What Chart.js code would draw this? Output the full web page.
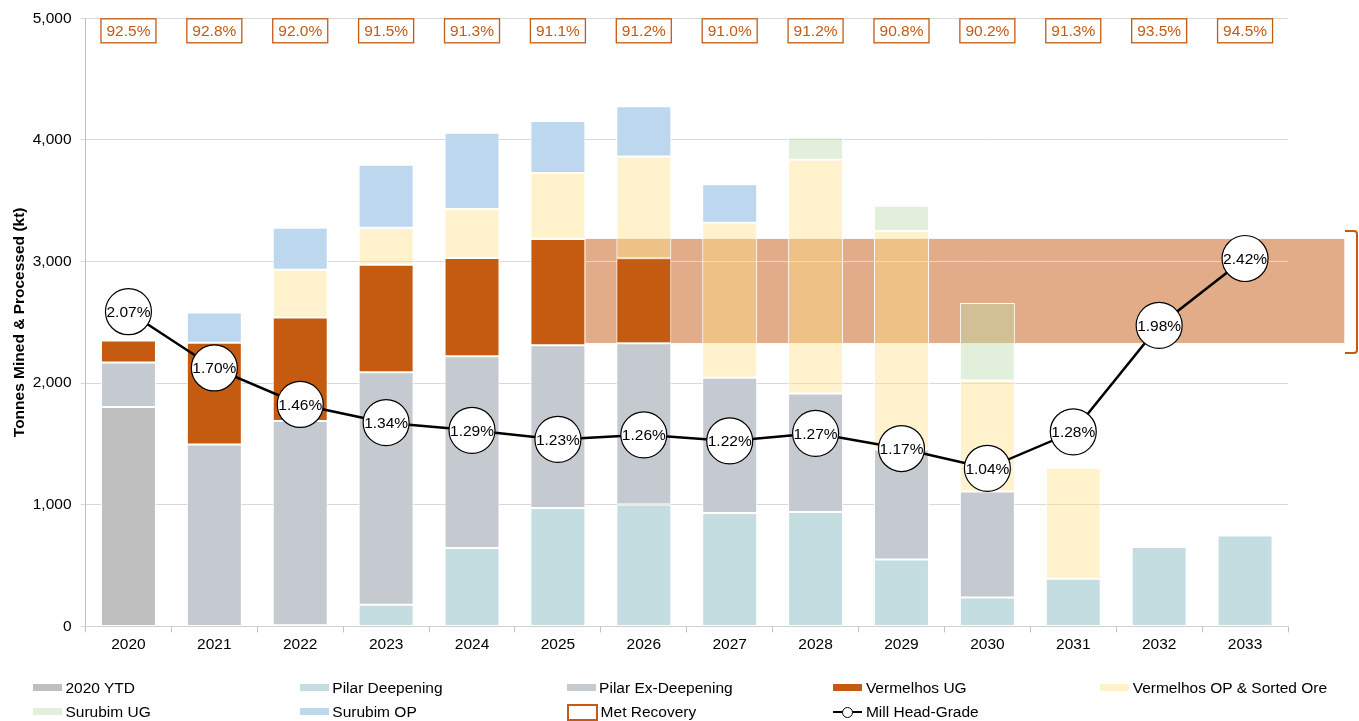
<!DOCTYPE html>
<html><head><meta charset="utf-8">
<script src="https://cdn.jsdelivr.net/npm/chart.js@4.4.1/dist/chart.umd.min.js"></script>
<style>
html,body{margin:0;padding:0;background:#fff;}
#wrap{position:relative;width:1359px;height:721px;overflow:hidden;}
#c{position:absolute;left:0;top:0;}
.lg{position:absolute;font-family:'Liberation Sans',Arial,sans-serif;font-size:15.5px;color:#000;white-space:nowrap;line-height:18px;}
.key{position:absolute;box-sizing:border-box;}
</style></head><body>
<div id="wrap"><canvas id="c" width="1359" height="721"></canvas><div id="legend"></div></div>
<script>
// ---- data ----
const years = ['2020','2021','2022','2023','2024','2025','2026','2027','2028','2029','2030','2031','2032','2033'];
const ytd2020      = [1805, null, null, null, null, null, null, null, null, null, null, null, null, null];
const pilarDeep    = [null, null, 10, 178, 644, 973, 1003, 932, 940, 551, 238, 392, 652, 748];
const pilarExDeep  = [365, 1496, 1678, 1912, 1578, 1339, 1326, 1112, 975, 904, 872, null, null, null];
const vermelhosUG  = [181, 836, 852, 883, 808, 874, 698, null, null, null, null, null, null, null];
const vermelhosOP  = [null, null, 392, 304, 403, 543, 836, 1274, 1921, 1797, 912, 912, null, null];
const surubimUG    = [null, null, null, null, null, null, null, null, 183, 206, 638, null, null, null];
const surubimOP    = [null, 250, 345, 518, 625, 427, 414, 318, null, null, null, null, null, null];
const metRecovery  = [92.5, 92.8, 92.0, 91.5, 91.3, 91.1, 91.2, 91.0, 91.2, 90.8, 90.2, 91.3, 93.5, 94.5];
const headGrade    = [2.07, 1.70, 1.46, 1.34, 1.29, 1.23, 1.26, 1.22, 1.27, 1.17, 1.04, 1.28, 1.98, 2.42];
const capacityBand = [2330, 3186];      // kt range of shaded band
const capacityFrom = 5;                 // category index (2025) the band starts after

// ---- styles ----
const FONT = "'Liberation Sans', Arial, sans-serif";
const ORANGE = '#C55A11';
const colors = {
  ytd: '#BFBFBF',
  pd: '#C4DDE0',
  pe: '#C5CAD1',
  vug: '#C55A11',
  vop: 'rgba(255,224,134,0.42)',
  sug: 'rgba(186,217,167,0.42)',
  sop: '#BDD7EE'
};
const legendColors = {vop:'#FFF2CC', sug:'#E2EFDA'};

Chart.defaults.font.family = FONT;
Chart.defaults.font.size = 15.5;
Chart.defaults.color = '#000';

const barCommon = {type:'bar', stack:'s', yAxisID:'y', order:2, borderColor:'#fff', borderWidth:1, borderSkipped:false,
  barPercentage:0.64, categoryPercentage:1};

const bandPlugin = {
  id:'band',
  beforeDraw(chart){
    const {ctx, scales:{x, y}} = chart;
    const cat = x.getPixelForValue(1) - x.getPixelForValue(0);
    const x0 = x.getPixelForValue(capacityFrom) + cat*0.64/2;
    const x1 = x.getPixelForValue(years.length-1) + cat*1.155;
    const yt = y.getPixelForValue(capacityBand[1]);
    const yb = y.getPixelForValue(capacityBand[0]);
    ctx.save();
    ctx.fillStyle = 'rgba(197,90,17,0.5)';
    ctx.fillRect(x0, yt, x1 - x0, yb - yt);
    // bracket
    const bx = chart.width - 2;
    const t = yt - 8, b = yb + 10;
    ctx.strokeStyle = ORANGE; ctx.lineWidth = 2;
    ctx.beginPath();
    ctx.moveTo(bx - 12, t);
    ctx.lineTo(bx - 3, t);
    ctx.quadraticCurveTo(bx, t, bx, t + 3);
    ctx.lineTo(bx, b - 3);
    ctx.quadraticCurveTo(bx, b, bx - 3, b);
    ctx.lineTo(bx - 12, b);
    ctx.stroke();
    ctx.restore();
  }
};

const labelPlugin = {
  id:'labels',
  afterDraw(chart){
    const {ctx, scales:{x, y}} = chart;
    ctx.save();
    // head-grade labels in circles
    const meta = chart.getDatasetMeta(7);
    ctx.font = '15.5px ' + FONT;
    ctx.fillStyle = '#000';
    ctx.textAlign = 'center'; ctx.textBaseline = 'middle';
    meta.data.forEach((p, i) => {
      ctx.fillText(headGrade[i].toFixed(2) + '%', p.x, p.y + 1);
    });
    // met recovery boxes
    const top = y.getPixelForValue(5000);
    metRecovery.forEach((v, i) => {
      const cx = x.getPixelForValue(i);
      const w = 55, h = 24;
      ctx.fillStyle = '#fff';
      ctx.fillRect(cx - w/2, top + 0.5, w, h);
      ctx.strokeStyle = ORANGE; ctx.lineWidth = 1.3;
      ctx.strokeRect(cx - w/2, top + 0.5, w, h);
      ctx.fillStyle = ORANGE;
      ctx.fillText(v.toFixed(1) + '%', cx, top + 0.5 + h/2 + 1);
    });
    ctx.restore();
  }
};

new Chart(document.getElementById('c'), {
  data: {
    labels: years,
    datasets: [
      Object.assign({label:'2020 YTD', data: ytd2020, backgroundColor: colors.ytd}, barCommon),
      Object.assign({label:'Pilar Deepening', data: pilarDeep, backgroundColor: colors.pd}, barCommon),
      Object.assign({label:'Pilar Ex-Deepening', data: pilarExDeep, backgroundColor: colors.pe}, barCommon),
      Object.assign({label:'Vermelhos UG', data: vermelhosUG, backgroundColor: colors.vug}, barCommon),
      Object.assign({label:'Vermelhos OP & Sorted Ore', data: vermelhosOP, backgroundColor: colors.vop}, barCommon),
      Object.assign({label:'Surubim UG', data: surubimUG, backgroundColor: colors.sug}, barCommon),
      Object.assign({label:'Surubim OP', data: surubimOP, backgroundColor: colors.sop}, barCommon),
      {type:'line', label:'Mill Head-Grade', data: headGrade, yAxisID:'y2', order:0,
       borderColor:'#000', borderWidth:2.5, tension:0,
       pointRadius:23, pointHoverRadius:23, pointBackgroundColor:'#fff', pointBorderColor:'#000', pointBorderWidth:1.2}
    ]
  },
  options: {
    responsive:false, animation:false, maintainAspectRatio:false,
    layout:{autoPadding:false, padding:{left:0, right:71, top:16, bottom:64}},
    plugins:{legend:{display:false}, tooltip:{enabled:false}},
    scales:{
      x:{stacked:true, offset:true,
         grid:{display:true, drawOnChartArea:false, drawTicks:true, tickLength:6, color:'#BFBFBF', z:1, offset:true},
         border:{display:true, color:'#D0D0D0', width:1, z:1},
         ticks:{padding:3, color:'#000', font:{size:15.5}}},
      y:{stacked:true, min:0, max:5000,
         afterFit(s){ s.width = 85.5; },
         ticks:{stepSize:1000, padding:9, color:'#000', font:{size:15.5}},
         grid:{color:'#D9D9D9', tickLength:5, drawTicks:true},
         border:{display:true, color:'#BFBFBF', width:1},
         title:{display:true, text:'Tonnes Mined & Processed (kt)', font:{size:15.5, weight:'bold'}, color:'#000', padding:{top:10, bottom:0}}},
      y2:{display:false, min:0, max:4}
    }
  },
  plugins:[bandPlugin, labelPlugin]
});

// ---- HTML legend ----
const legendItems = [
  {label:'2020 YTD', kind:'box', color: colors.ytd},
  {label:'Pilar Deepening', kind:'box', color: colors.pd},
  {label:'Pilar Ex-Deepening', kind:'box', color: colors.pe},
  {label:'Vermelhos UG', kind:'box', color: colors.vug},
  {label:'Vermelhos OP & Sorted Ore', kind:'box', color: legendColors.vop},
  {label:'Surubim UG', kind:'box', color: legendColors.sug},
  {label:'Surubim OP', kind:'box', color: colors.sop},
  {label:'Met Recovery', kind:'rect'},
  {label:'Mill Head-Grade', kind:'line'}
];
const lg = document.getElementById('legend');
legendItems.forEach((it, i) => {
  const col = i % 5, row = Math.floor(i / 5);
  const x0 = 33 + col * 266.8;
  const cy = 688 + row * 24;
  if (it.kind === 'box') {
    const k = document.createElement('div');
    k.className = 'key';
    Object.assign(k.style, {left:x0+'px', top:(cy-4)+'px', width:'29px', height:'7px', background:it.color});
    lg.appendChild(k);
  } else if (it.kind === 'rect') {
    const k = document.createElement('div');
    k.className = 'key';
    Object.assign(k.style, {left:x0+'px', top:(cy-8.5)+'px', width:'31px', height:'17px', border:'2px solid '+ORANGE, background:'#fff'});
    lg.appendChild(k);
  } else {
    const l = document.createElement('div');
    l.className = 'key';
    Object.assign(l.style, {left:x0+'px', top:(cy-1)+'px', width:'29px', height:'2px', background:'#000'});
    lg.appendChild(l);
    const c = document.createElement('div');
    c.className = 'key';
    Object.assign(c.style, {left:(x0+9)+'px', top:(cy-5.5)+'px', width:'11px', height:'11px', border:'1.5px solid #000', borderRadius:'50%', background:'#fff'});
    lg.appendChild(c);
  }
  const t = document.createElement('div');
  t.className = 'lg';
  t.textContent = it.label;
  t.style.left = (x0 + (it.kind === 'rect' ? 34 : 32.5)) + 'px';
  t.style.top = (cy - 9) + 'px';
  lg.appendChild(t);
});
</script>
</body></html>
